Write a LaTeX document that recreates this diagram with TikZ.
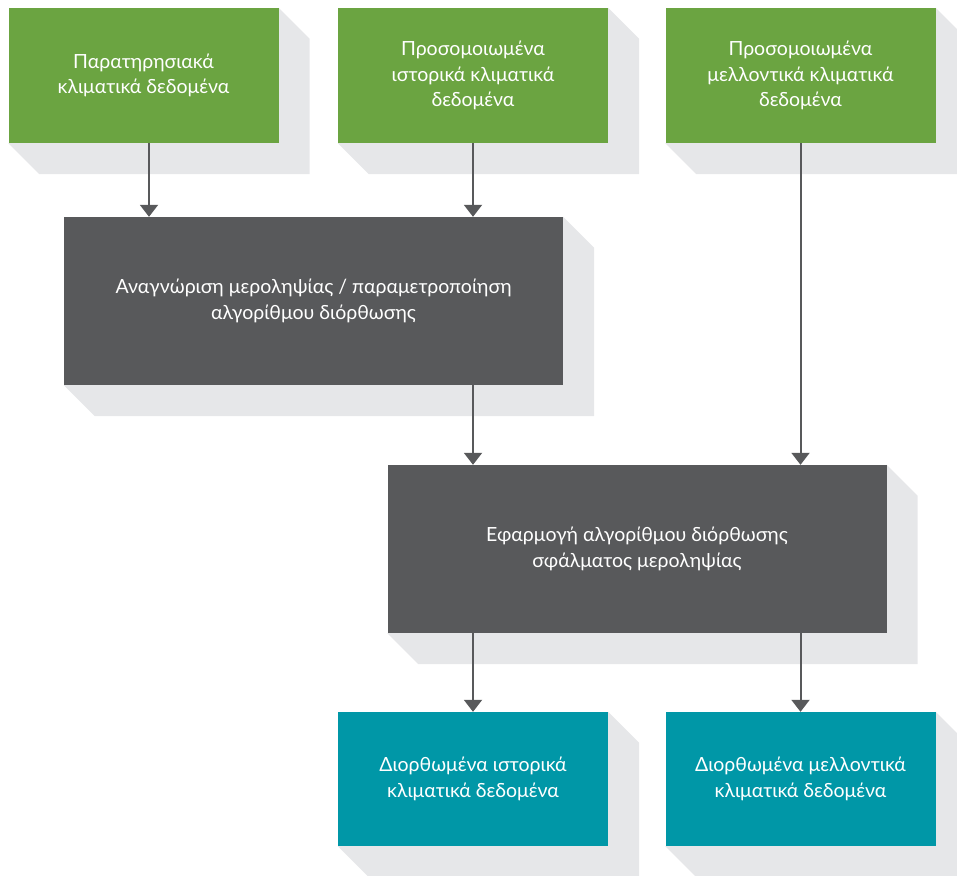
\documentclass[tikz,border=0pt]{standalone}
\usepackage{fontspec}
\setmainfont{Lato}
\usepackage{tikz}
\usetikzlibrary{positioning,%
  arrows.meta,%
  backgrounds,%
  calc
}

\definecolor{srcgreen}{HTML}{6BA441}
\definecolor{procgray}{HTML}{58595B}
\definecolor{resteal}{HTML}{0097A7}
\definecolor{shadowgray}{HTML}{E6E7E9}

\begin{document}
\begin{tikzpicture}
                    [x=1pt, y=-1pt,
                    box/.style={rectangle, text=white, align=center,
                        inner sep=0pt,
                        font=\fontsize{19.5}{25.5}\selectfont},
                    src/.style={box, fill=srcgreen,
                        minimum width=270pt, minimum height=135pt},
                    proc/.style={box, fill=procgray,
                        minimum width=499pt, minimum height=168pt},
                    res/.style={box, fill=resteal,
                        minimum width=270pt, minimum height=134pt},
                    arr/.style={draw=procgray, line width=2pt,
                        -{Triangle[width=18pt,length=12pt]}}]

                    \useasboundingbox (0,0) rectangle (957,875);

                    \node[src] (obs) at (143.5,75.5)
                        {Παρατηρησιακά\\κλιματικά δεδομένα};
                    \node[src] (hist) at (473,75.5)
                        {Προσομοιωμένα\\ιστορικά κλιματικά\\δεδομένα};
                    \node[src] (fut) at (800.5,75.5)
                        {Προσομοιωμένα\\μελλοντικά κλιματικά\\δεδομένα};
                    \node[proc] (bias) at (313.5,301)
                        {Αναγνώριση μεροληψίας / παραμετροποίηση\\αλγορίθμου διόρθωσης};
                    \node[proc] (apply) at (637,549)
                        {Εφαρμογή αλγορίθμου διόρθωσης\\σφάλματος μεροληψίας};
                    \node[res] (corrhist) at (473,779)
                        {Διορθωμένα ιστορικά\\κλιματικά δεδομένα};
                    \node[res] (corrfut) at (800.5,779)
                        {Διορθωμένα μελλοντικά\\κλιματικά δεδομένα};

                    % flat shadows behind the boxes
                    \begin{scope}[on background layer]
                    \foreach \n in {obs,hist,fut,bias,apply,corrhist,corrfut}
                        \fill[shadowgray] (\n.north east)
                            -- ($(\n.north east)+(31,31)$)
                            -- ($(\n.south east)+(31,31)$)
                            -- ($(\n.south west)+(31,31)$)
                            -- (\n.south west) -- cycle;
                    \end{scope}

                    \draw[arr] ([xshift=5.5pt]obs.south)
                        -- ([xshift=5.5pt]obs.south |- bias.north);
                    \draw[arr] (hist) -- (hist |- bias.north);
                    \draw[arr] (fut) -- (fut |- apply.north);
                    \draw[arr] (bias.south -| hist) -- (apply.north -| hist);
                    \draw[arr] (apply.south -| corrhist) -- (corrhist);
                    \draw[arr] (apply.south -| corrfut) -- (corrfut);
                \end{tikzpicture}
\end{document}
